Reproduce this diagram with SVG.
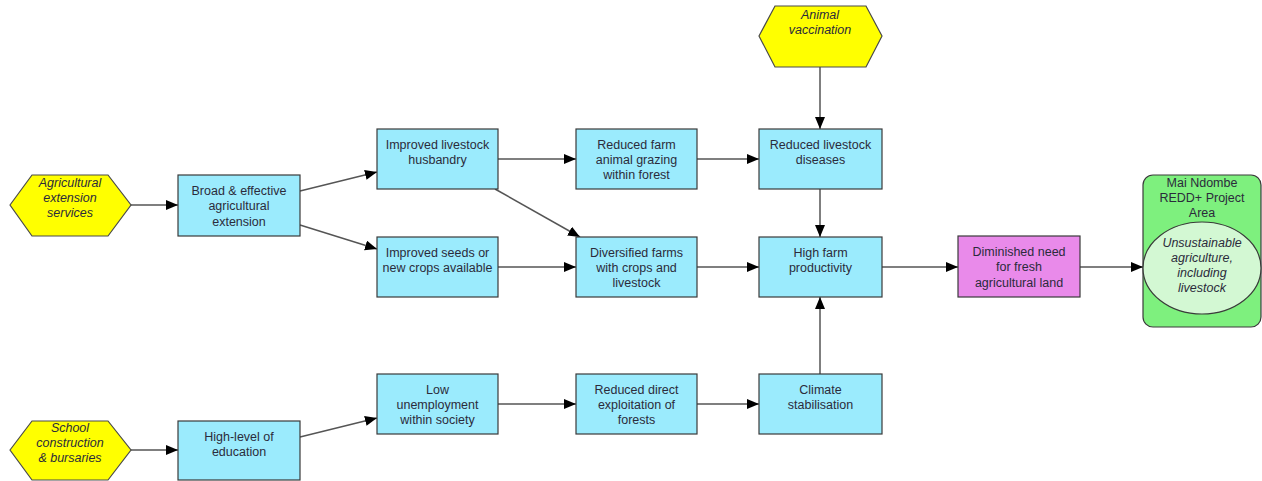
<svg xmlns="http://www.w3.org/2000/svg" width="1262" height="481" viewBox="0 0 1262 481">
  <style>
    .box { fill: #9BEBFD; stroke: #3a3a3a; stroke-width: 1.2; }
    .hex { fill: #FFFF00; stroke: #4a4a4a; stroke-width: 1.2; }
    .out { fill: #E98AEA; stroke: #3a3a3a; stroke-width: 1.2; }
    .area { fill: #7EF07E; stroke: #3a3a3a; stroke-width: 1.2; }
    .inner { fill: #D3F8D3; stroke: #3a3a3a; stroke-width: 1.2; }
    text { font-family: "Liberation Sans", Arial, sans-serif; font-size: 12.5px; fill: #2b2b3b; text-anchor: middle; }
    .it { font-style: italic; }
    .conn line { stroke: #555; stroke-width: 1.5; marker-end: url(#arrow); }
  </style>
  <defs>
    <marker id="arrow" markerUnits="userSpaceOnUse" markerWidth="13" markerHeight="11" refX="12" refY="5" orient="auto">
      <path d="M0,0 L12,5 L0,10 z" fill="#000"/>
    </marker>
  </defs>

  <!-- connectors -->
  <g id="connectors" class="conn">
    <line x1="131" y1="205" x2="178" y2="205"/>
    <line x1="300" y1="191" x2="377" y2="172"/>
    <line x1="300" y1="225" x2="377" y2="249"/>
    <line x1="498" y1="159" x2="576" y2="159"/>
    <line x1="495" y1="189" x2="580" y2="237"/>
    <line x1="498" y1="267" x2="576" y2="267"/>
    <line x1="697" y1="159" x2="759" y2="159"/>
    <line x1="697" y1="267" x2="759" y2="267"/>
    <line x1="820" y1="67" x2="820" y2="129"/>
    <line x1="820" y1="189" x2="820" y2="237"/>
    <line x1="820" y1="374" x2="820" y2="297"/>
    <line x1="882" y1="267" x2="958" y2="267"/>
    <line x1="1080" y1="267" x2="1143" y2="267"/>
    <line x1="131" y1="450" x2="178" y2="450"/>
    <line x1="300" y1="437" x2="377" y2="418"/>
    <line x1="498" y1="404" x2="576" y2="404"/>
    <line x1="697" y1="404" x2="759" y2="404"/>
  </g>

  <!-- interventions -->
  <g id="agri-extension-services">
    <polygon class="hex" points="10,205 32,175 108,175 131,205 108,236 32,236"/>
    <text class="it" x="70" y="187">Agricultural</text>
    <text class="it" x="70" y="202">extension</text>
    <text class="it" x="70" y="217">services</text>
  </g>
  <g id="animal-vaccination">
    <polygon class="hex" points="759,36 775,6 866,6 882,36 866,67 775,67"/>
    <text class="it" x="820" y="19">Animal</text>
    <text class="it" x="820" y="34">vaccination</text>
  </g>
  <g id="school-construction">
    <polygon class="hex" points="10,450 32,421 108,421 131,450 108,480 32,480"/>
    <text class="it" x="70" y="432">School</text>
    <text class="it" x="70" y="447">construction</text>
    <text class="it" x="70" y="462">&amp; bursaries</text>
  </g>

  <!-- outcomes -->
  <g id="broad-extension">
    <rect class="box" x="178" y="175" width="122" height="61"/>
    <text x="239" y="195">Broad &amp; effective</text>
    <text x="239" y="210">agricultural</text>
    <text x="239" y="226">extension</text>
  </g>
  <g id="improved-husbandry">
    <rect class="box" x="377" y="129" width="121" height="60"/>
    <text x="437.5" y="149">Improved livestock</text>
    <text x="437.5" y="164">husbandry</text>
  </g>
  <g id="improved-seeds">
    <rect class="box" x="377" y="237" width="121" height="60"/>
    <text x="437.5" y="257">Improved seeds or</text>
    <text x="437.5" y="272">new crops available</text>
  </g>
  <g id="reduced-grazing">
    <rect class="box" x="576" y="129" width="121" height="60"/>
    <text x="636.5" y="149">Reduced farm</text>
    <text x="636.5" y="164">animal grazing</text>
    <text x="636.5" y="179">within forest</text>
  </g>
  <g id="diversified-farms">
    <rect class="box" x="576" y="237" width="121" height="60"/>
    <text x="636.5" y="257">Diversified farms</text>
    <text x="636.5" y="272">with crops and</text>
    <text x="636.5" y="287">livestock</text>
  </g>
  <g id="reduced-diseases">
    <rect class="box" x="759" y="129" width="123" height="60"/>
    <text x="820.5" y="149">Reduced livestock</text>
    <text x="820.5" y="164">diseases</text>
  </g>
  <g id="high-productivity">
    <rect class="box" x="759" y="237" width="123" height="60"/>
    <text x="820.5" y="257">High farm</text>
    <text x="820.5" y="272">productivity</text>
  </g>
  <g id="high-education">
    <rect class="box" x="178" y="421" width="122" height="59"/>
    <text x="239" y="441">High-level of</text>
    <text x="239" y="456">education</text>
  </g>
  <g id="low-unemployment">
    <rect class="box" x="377" y="374" width="121" height="60"/>
    <text x="437.5" y="394">Low</text>
    <text x="437.5" y="409">unemployment</text>
    <text x="437.5" y="424">within society</text>
  </g>
  <g id="reduced-exploitation">
    <rect class="box" x="576" y="374" width="121" height="60"/>
    <text x="636.5" y="394">Reduced direct</text>
    <text x="636.5" y="409">exploitation of</text>
    <text x="636.5" y="424">forests</text>
  </g>
  <g id="climate-stabilisation">
    <rect class="box" x="759" y="374" width="123" height="60"/>
    <text x="820.5" y="394">Climate</text>
    <text x="820.5" y="409">stabilisation</text>
  </g>
  <g id="diminished-need">
    <rect class="out" x="958" y="236" width="122" height="61"/>
    <text x="1019" y="256">Diminished need</text>
    <text x="1019" y="271">for fresh</text>
    <text x="1019" y="287">agricultural land</text>
  </g>

  <!-- project area with threat -->
  <g id="project-area">
    <rect class="area" x="1143" y="175" width="118" height="152" rx="10" ry="10"/>
    <text x="1202" y="187">Mai Ndombe</text>
    <text x="1202" y="202">REDD+ Project</text>
    <text x="1202" y="217">Area</text>
    <ellipse class="inner" cx="1202" cy="268" rx="59" ry="46"/>
    <text class="it" x="1202" y="247">Unsustainable</text>
    <text class="it" x="1202" y="262">agriculture,</text>
    <text class="it" x="1202" y="277">including</text>
    <text class="it" x="1202" y="292">livestock</text>
  </g>
</svg>
